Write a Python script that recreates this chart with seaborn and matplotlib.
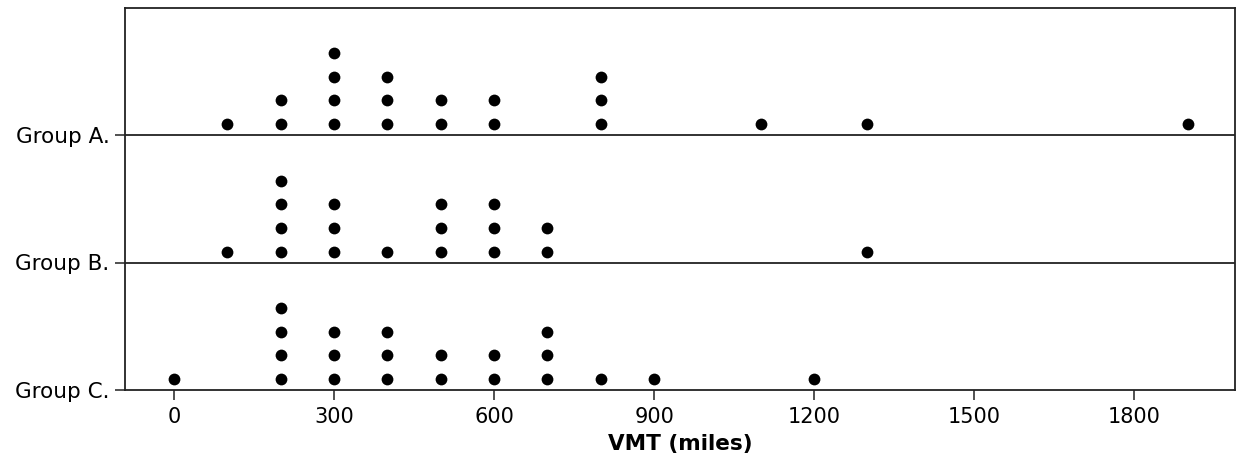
import numpy as np
import pandas as pd
import matplotlib
matplotlib.use("Agg")
import matplotlib.pyplot as plt
import seaborn as sns

# VMT (miles) observed in each group, one entry per vehicle
group_a = [100, 200, 200, 300, 300, 300, 300, 400, 400, 400, 500, 500,
           600, 600, 800, 800, 800, 1100, 1300, 1900]
group_b = [100, 200, 200, 200, 200, 300, 300, 300, 400, 500, 500, 500,
           600, 600, 600, 700, 700, 1300]
group_c = [0, 200, 200, 200, 200, 300, 300, 300, 400, 400, 400, 500, 500,
           600, 600, 700, 700, 700, 800, 900, 1200]

group_labels = ["Group C.", "Group B.", "Group A."]
group_values = [group_c, group_b, group_a]
x_ticks = [0, 300, 600, 900, 1200, 1500, 1800]

# Stack repeated values into columns of dots above each group's baseline
base_offset = 0.086
step = 0.185
rows = []
for gi, vals in enumerate(group_values):
    counts = {}
    for v in vals:
        k = counts.get(v, 0)
        counts[v] = k + 1
        rows.append({"vmt": v, "y": gi + base_offset + k * step,
                     "group": group_labels[gi]})
df = pd.DataFrame(rows)

sns.set_theme(style="white")
plt.rcParams["font.family"] = ["DejaVu Sans"]

fig = plt.figure(figsize=(12.38, 4.66), dpi=100)
ax = fig.add_axes([125 / 1238, 1 - 390 / 466, 1110 / 1238, 382.5 / 466])

sns.scatterplot(data=df, x="vmt", y="y", color="black", s=72,
                linewidth=0, ax=ax, legend=False)

for gi in range(1, len(group_labels)):
    ax.axhline(gi, color="#222222", lw=1.3, zorder=1)

ax.set_xlim(-92, 1989)
ax.set_ylim(0, 3)
ax.set_xticks(x_ticks)
ax.set_xticklabels([str(t) for t in x_ticks])
ax.set_yticks(range(len(group_labels)))
ax.set_yticklabels(group_labels)

ax.tick_params(axis="both", which="major", direction="out", length=7,
               width=1.1, color="#222222", labelcolor="black",
               bottom=True, left=True)
ax.tick_params(axis="x", pad=5, labelsize=15)
ax.tick_params(axis="y", pad=4, labelsize=15.5)
ax.set_xlabel("VMT (miles)", fontsize=15.5, fontweight="bold",
              color="black", labelpad=5)
ax.set_ylabel("")

for sp in ax.spines.values():
    sp.set_visible(True)
    sp.set_color("#222222")
    sp.set_linewidth(1.3)

fig.savefig("out.png", dpi=100, facecolor="white")
